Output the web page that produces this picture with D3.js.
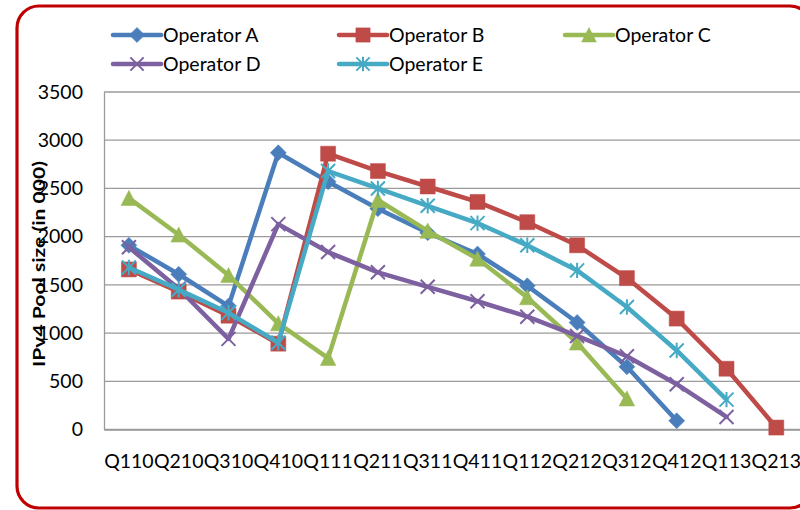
<!DOCTYPE html>
<html>
<head>
<meta charset="utf-8">
<script src="https://cdn.jsdelivr.net/npm/d3@7"></script>
<style>
  html, body { margin: 0; padding: 0; background: #fff; }
  svg { display: block; }
  text { font-family: Lato, "Open Sans", sans-serif; fill: #000; }
</style>
</head>
<body>
<svg id="chart" width="800" height="510"></svg>
<script>
const categories = ["Q110","Q210","Q310","Q410","Q111","Q211","Q311","Q411","Q112","Q212","Q312","Q412","Q113","Q213"];
const operatorA = [1910, 1610, 1280, 2870, 2570, 2290, 2040, 1820, 1490, 1110, 650, 90, null, null];
const operatorB = [1660, 1430, 1180, 890, 2860, 2680, 2520, 2360, 2150, 1910, 1570, 1150, 630, 20];
const operatorC = [2400, 2020, 1600, 1100, 740, 2380, 2060, 1770, 1370, 900, 320, null, null, null];
const operatorD = [1890, 1460, 940, 2130, 1840, 1630, 1480, 1330, 1170, 970, 760, 470, 130, null];
const operatorE = [1680, 1450, 1210, 900, 2680, 2500, 2320, 2140, 1910, 1650, 1270, 820, 310, null];
const seriesNames = ["Operator A","Operator B","Operator C","Operator D","Operator E"];
const seriesColors = ["#4A7EBB","#BE4B48","#98B954","#7D60A0","#46AAC5"];
const seriesMarkers = ["diamond","square","triangle","x","star"];
const yTicks = [0, 500, 1000, 1500, 2000, 2500, 3000, 3500];
const yTitle = "IPv4 Pool size (in 000)";

const allSeries = [operatorA, operatorB, operatorC, operatorD, operatorE].map((vals, i) => ({
  name: seriesNames[i], color: seriesColors[i], marker: seriesMarkers[i],
  points: vals.map((v, j) => ({ cat: categories[j], v: v }))
}));

const svg = d3.select("#chart");

// frame
svg.append("rect")
  .attr("x", 17).attr("y", 6).attr("width", 795).attr("height", 502)
  .attr("rx", 22).attr("ry", 22)
  .attr("fill", "#fff").attr("stroke", "#C00000").attr("stroke-width", 3.2);

const plotLeft = 104, plotTop = 92, plotBottom = 429.5;
const band = 49.8;
const x = d3.scaleBand().domain(categories).range([plotLeft, plotLeft + band * categories.length]).padding(0);
const y = d3.scaleLinear().domain([0, 3500]).range([plotBottom, plotTop]);

// gridlines
svg.append("g").selectAll("line").data(yTicks).join("line")
  .attr("x1", plotLeft).attr("x2", plotLeft + band * categories.length)
  .attr("y1", d => y(d)).attr("y2", d => y(d))
  .attr("stroke", "#9A9A9A").attr("stroke-width", 1.3);

// y axis
const yAxis = d3.axisLeft(y).tickValues(yTicks).tickSize(0).tickPadding(0).tickFormat(d3.format("d"));
const yg = svg.append("g").attr("transform", `translate(${plotLeft},0)`).call(yAxis);
yg.select(".domain").attr("stroke", "#9A9A9A").attr("stroke-width", 1.3);
yg.selectAll("text").attr("x", -21).attr("font-size", 19.5).attr("font-family", "Lato").attr("fill", "#000");

// x axis
const xAxis = d3.axisBottom(x).tickSize(0).tickPadding(0);
const xg = svg.append("g").attr("transform", `translate(0,${plotBottom})`).call(xAxis);
xg.select(".domain").attr("stroke", "#9A9A9A").attr("stroke-width", 1.3);
xg.selectAll("text").attr("y", 38).attr("dy", 0).attr("font-size", 19.5).attr("font-family", "Lato").attr("fill", "#000");

// y title
svg.append("text")
  .attr("transform", "translate(45,264) rotate(-90)")
  .attr("text-anchor", "middle")
  .attr("font-size", 17).attr("font-weight", "bold")
  .attr("textLength", 206).attr("lengthAdjust", "spacingAndGlyphs")
  .text(yTitle);

function markerPath(type, s) {
  const p = d3.path();
  if (type === "diamond") {
    p.moveTo(0, -s); p.lineTo(s, 0); p.lineTo(0, s); p.lineTo(-s, 0); p.closePath();
  } else if (type === "square") {
    p.rect(-s, -s, 2 * s, 2 * s);
  } else if (type === "triangle") {
    p.moveTo(0, -s); p.lineTo(s, s * 0.95); p.lineTo(-s, s * 0.95); p.closePath();
  } else if (type === "x") {
    p.moveTo(-s, -s); p.lineTo(s, s); p.moveTo(-s, s); p.lineTo(s, -s);
  } else if (type === "star") {
    p.moveTo(-s, -s); p.lineTo(s, s); p.moveTo(-s, s); p.lineTo(s, -s);
    p.moveTo(0, -s * 1.1); p.lineTo(0, s * 1.1);
  }
  return p.toString();
}
const markerSize = { diamond: 8, square: 7.5, triangle: 7.8, x: 7, star: 7 };
function drawMarker(g, type, color, cx, cy, scale) {
  const s = markerSize[type] * (scale || 1);
  const filled = (type === "diamond" || type === "square" || type === "triangle");
  g.append("path")
    .attr("transform", `translate(${cx},${cy})`)
    .attr("d", markerPath(type, s))
    .attr("fill", filled ? color : "none")
    .attr("stroke", color)
    .attr("stroke-width", filled ? 0.5 : 2);
}

const line = d3.line()
  .defined(d => d.v !== null)
  .x(d => x(d.cat) + x.bandwidth() / 2)
  .y(d => y(d.v));

const plot = svg.append("g");
allSeries.forEach(s => {
  const g = plot.append("g");
  g.append("path").datum(s.points)
    .attr("d", line)
    .attr("fill", "none").attr("stroke", s.color).attr("stroke-width", 4.5)
    .attr("stroke-linejoin", "round").attr("stroke-linecap", "round");
  s.points.filter(d => d.v !== null).forEach(d => {
    drawMarker(g, s.marker, s.color, x(d.cat) + x.bandwidth() / 2, y(d.v));
  });
});

// legend
const legendPos = [[113, 35], [339, 35], [565, 35], [113, 64], [339, 64]];
allSeries.forEach((s, i) => {
  const [lx, ly] = legendPos[i];
  const g = svg.append("g");
  g.append("line").attr("x1", lx).attr("x2", lx + 48).attr("y1", ly).attr("y2", ly)
    .attr("stroke", s.color).attr("stroke-width", 4.5).attr("stroke-linecap", "round");
  drawMarker(g, s.marker, s.color, lx + 24, ly, 0.95);
  g.append("text").attr("x", lx + 50).attr("y", ly).attr("dy", "0.36em")
    .attr("font-size", 19.5).text(s.name);
});
</script>
</body>
</html>
